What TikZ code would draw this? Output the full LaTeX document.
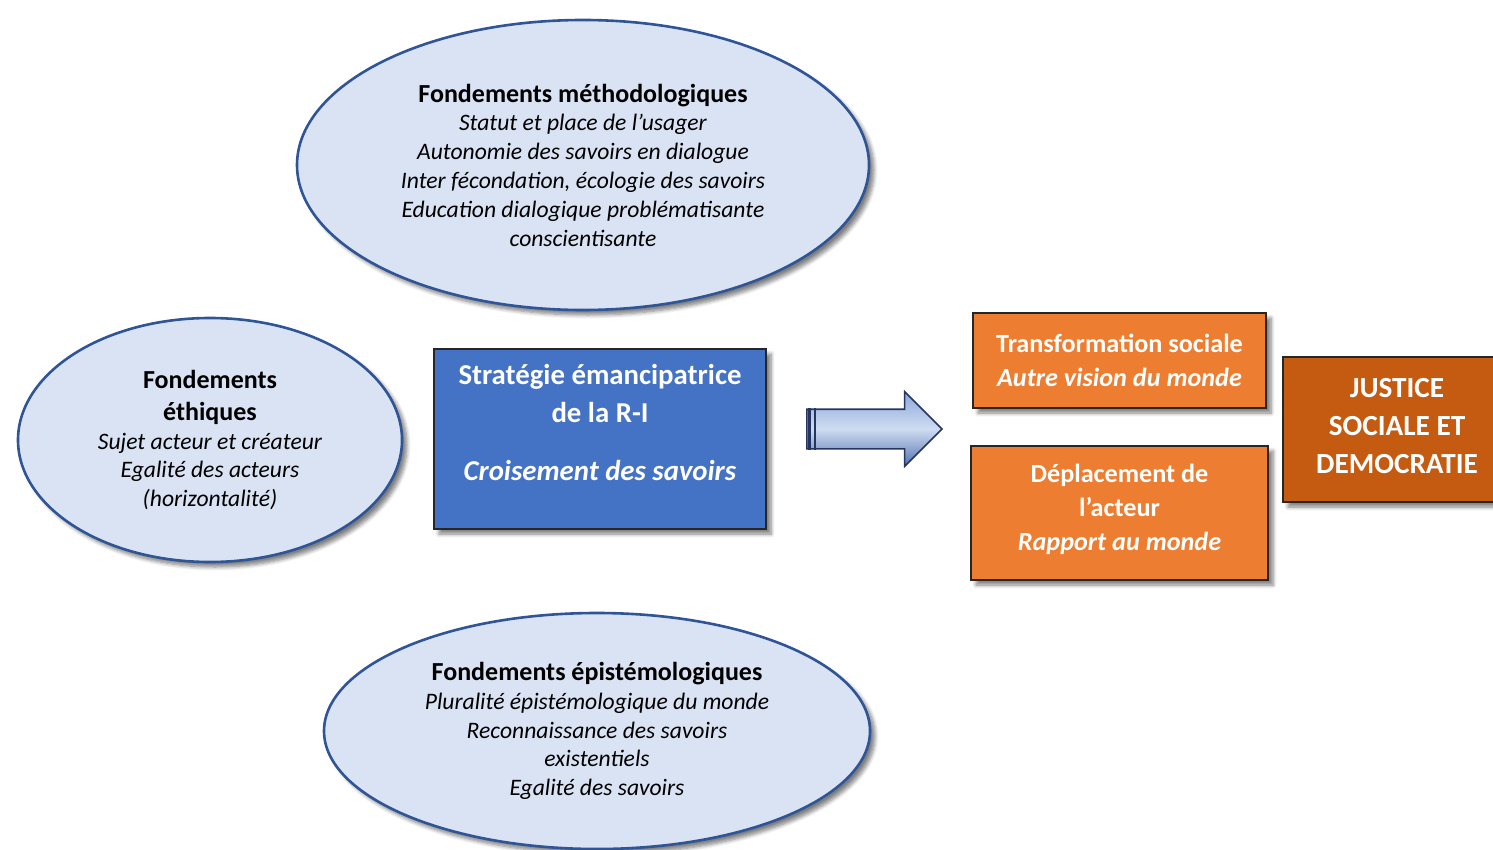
\documentclass[tikz,border=0pt]{standalone}
\usepackage{fontspec}
\setmainfont{Carlito}
\usetikzlibrary{shapes.geometric,shapes.arrows,shadows.blur}

\definecolor{ellfond}{HTML}{DAE3F3}
\definecolor{elltrait}{HTML}{2F5597}
\definecolor{bleustrat}{HTML}{4472C4}
\definecolor{orangeclair}{HTML}{ED7D31}
\definecolor{orangefonce}{HTML}{C55A11}
\definecolor{flechehaut}{HTML}{8EA8DA}
\definecolor{flechemilieu}{HTML}{CFDCF2}
\definecolor{flechebas}{HTML}{5473B0}
\definecolor{flechetrait}{HTML}{26355F}

\tikzset{
  ombre/.style={blur shadow={shadow xshift=2.5pt,shadow yshift=-2.5pt,shadow blur steps=6,shadow opacity=50}},
  fondement/.style={ellipse,draw=elltrait,line width=1.3pt,fill=ellfond,ombre,
    align=center,inner sep=0pt,font=\fontsize{11.8}{14.4}\selectfont},
  boite/.style={rectangle,draw=black!85,line width=1pt,ombre,text=white,
    align=center,inner sep=0pt,font=\bfseries\fontsize{13.1}{17}\selectfont},
}
\newcommand{\grand}[1]{{\bfseries\fontsize{13}{14.4}\selectfont #1}}

\begin{document}
\begin{tikzpicture}[x=0.5pt,y=-0.5pt]
  % page frame, pixel coordinates
  \useasboundingbox (0,0) rectangle (1493,850);

  % the three ellipses
  \node[fondement,minimum width=286pt,minimum height=145pt] (methodo) at (583,165)
    {\grand{Fondements méthodologiques}\\
     \textit{Statut et place de l’usager}\\
     \textit{Autonomie des savoirs en dialogue}\\
     \textit{Inter fécondation, écologie des savoirs}\\
     \textit{Education dialogique problématisante}\\
     \textit{conscientisante}};

  \node[fondement,minimum width=192pt,minimum height=122pt] (ethique) at (210,440)
    {\grand{Fondements}\\[1.5pt]
     \grand{éthiques}\\
     \textit{Sujet acteur et créateur}\\
     \textit{Egalité des acteurs}\\
     \textit{(horizontalité)}};

  \node[fondement,minimum width=273pt,minimum height=118pt] (episte) at (597,731)
    {\grand{Fondements épistémologiques}\\
     \textit{Pluralité épistémologique du monde}\\
     \textit{Reconnaissance des savoirs}\\
     \textit{existentiels}\\
     \textit{Egalité des savoirs}};

  % central strategy box
  \node[boite,fill=bleustrat,minimum width=166pt,minimum height=90pt,
        font=\bfseries\fontsize{14.4}{19}\selectfont] (strategie) at (600,439)
    {Stratégie émancipatrice\\ de la R-I\\[10pt] \textit{Croisement des savoirs}\\[-2pt]\mbox{}};

  % arrow
  \node[single arrow,draw=flechetrait,line width=0.8pt,inner sep=9.5pt,
        minimum height=67.5pt,minimum width=36.5pt,single arrow head extend=8.75pt,
        top color=flechehaut,bottom color=flechebas,middle color=flechemilieu]
        (fleche) at (864.5,429) {};
  \draw[flechetrait,line width=1.5pt] ([xshift=1.5pt]fleche.before tail) -- ([xshift=1.5pt]fleche.after tail);
  \draw[flechetrait,line width=1pt] ([xshift=4.5pt]fleche.before tail) -- ([xshift=4.5pt]fleche.after tail);

  % results
  \node[boite,fill=orangeclair,minimum width=146.5pt,minimum height=47.5pt] (transfo) at (1119.5,360.5)
    {Transformation sociale\\ \textit{Autre vision du monde}};

  \node[boite,fill=orangeclair,minimum width=148.5pt,minimum height=67pt] (deplace) at (1119.5,513)
    {Déplacement de\\ l’acteur\\ \textit{Rapport au monde}\\[-11pt]\mbox{}};

  \node[boite,fill=orangefonce,minimum width=114pt,minimum height=72.5pt,
        font=\bfseries\fontsize{14.6}{19}\selectfont] (justice) at (1397,429.5)
    {JUSTICE\\ SOCIALE ET\\ DEMOCRATIE\\[-15pt]\mbox{}};

\end{tikzpicture}
\end{document}
